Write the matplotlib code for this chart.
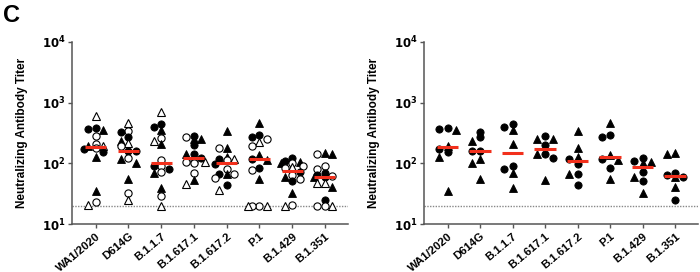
import numpy as np
import matplotlib
matplotlib.use('Agg')
import matplotlib.pyplot as plt

plt.rcParams['font.family'] = ['Liberation Sans', 'DejaVu Sans']
plt.rcParams['font.weight'] = 'bold'

variants = ['WA1/2020', 'D614G', 'B.1.1.7', 'B.1.617.1', 'B.1.617.2', 'P.1', 'B.1.429', 'B.1.351']

# filled markers (shown in both panels)
filled_circle = [
    [380, 368, 174, 154],
    [332, 270, 162, 162],
    [437, 398, 89, 81],
    [283, 200, 121, 143],
    [118, 97, 68, 44],
    [293, 270, 118, 85],
    [121, 109, 73, 51],
    [69, 64, 60, 25],
]
filled_tri = [
    [360, 191, 129, 35],
    [234, 117, 102, 55],
    [355, 206, 69, 40],
    [252, 250, 143, 53],
    [345, 181, 128, 66],
    [457, 137, 113, 55],
    [104, 100, 60, 33],
    [146, 141, 59, 41],
]
# open markers (left panel only)
open_circle = [
    [283, 210, 178, 23],
    [335, 190, 121, 32],
    [259, 113, 90, 71, 29],
    [270, 108, 104, 100, 70],
    [177, 113, 81, 66, 57],
    [250, 193, 78, 20, 20],
    [103, 90, 83, 64, 55, 21],
    [143, 91, 80, 62, 20, 20],
]
open_tri = [
    [610, 190, 21],
    [460, 213, 25],
    [690, 234, 20],
    [104, 45],
    [117, 37],
    [229, 20, 20],
    [88, 20],
    [47, 47, 20],
]

median_left = [184, 160, 100, 124, 100, 118, 76, 60]
median_right = [186, 162, 150, 172, 108, 126, 87, 62]
lod = 20

RED = '#f2301c'
MS = 5.2


def swarm(ax, groups, step=7.0, diam=7.0):
    # compact beeswarm: nearest free slot among a few columns, else least crowded
    fig = ax.figure
    fig.canvas.draw()
    tr = ax.transData
    for i, pts in enumerate(groups):
        pts = sorted(pts, key=lambda p: -p[0])
        placed = []
        x0, _ = tr.transform((i, 1))
        for val, kind in pts:
            _, yp = tr.transform((i, val))
            best, best_d = None, -1
            for k in [0, -1, 1, -1.5, 1.5]:
                xp = x0 + k * step
                d = min([np.hypot(xp - a, yp - b) for a, b in placed] or [99])
                if d >= diam * 0.75:
                    best = xp
                    break
                if d > best_d + 2:
                    best, best_d = xp, d
            placed.append((best, yp))
            xd, _ = tr.inverted().transform((best, yp))
            if kind == 'fc':
                ax.plot(xd, val, 'o', ms=MS, mfc='black', mec='black', mew=0.6, zorder=3)
            elif kind == 'ft':
                ax.plot(xd, val, '^', ms=MS, mfc='black', mec='black', mew=0.6, zorder=3)
            elif kind == 'oc':
                ax.plot(xd, val, 'o', ms=MS, mfc='white', mec='black', mew=0.8, zorder=3)
            else:
                ax.plot(xd, val, '^', ms=MS, mfc='white', mec='black', mew=0.8, zorder=3)


def style(ax):
    ax.set_yscale('log')
    ax.set_ylim(10, 10000)
    ax.set_xlim(-0.72, 7.7)
    ax.set_yticks([10, 100, 1000, 10000])
    ax.set_yticklabels(['$\\mathbf{10^{1}}$', '$\\mathbf{10^{2}}$', '$\\mathbf{10^{3}}$', '$\\mathbf{10^{4}}$'])
    ax.yaxis.set_minor_locator(matplotlib.ticker.NullLocator())
    ax.set_xticks(range(len(variants)))
    ax.set_xticklabels(variants, rotation=40, ha='right', rotation_mode='anchor', fontsize=8.2, fontweight='bold')
    ax.tick_params(axis='y', labelsize=8.5, length=3, width=1, color='#555555', pad=1.5)
    ax.tick_params(axis='x', length=3, width=1, color='#555555', pad=2)
    for s in ['top', 'right']:
        ax.spines[s].set_visible(False)
    for s in ['left', 'bottom']:
        ax.spines[s].set_color('#555555')
        ax.spines[s].set_linewidth(1.1)
    ax.set_ylabel('Neutralizing Antibody Titer', fontsize=8.5, fontweight='bold', labelpad=10)
    ax.axhline(lod, color='#888888', lw=1, ls=(0, (1, 1)), zorder=1)


fig = plt.figure(figsize=(7, 2.72), dpi=100)
ax1 = fig.add_axes([0.103, 0.176, 0.394, 0.67])
ax2 = fig.add_axes([0.606, 0.176, 0.391, 0.67])
style(ax1)
style(ax2)

left_groups = []
right_groups = []
for i in range(len(variants)):
    r = [(v, 'fc') for v in filled_circle[i]] + [(v, 'ft') for v in filled_tri[i]]
    l = r + [(v, 'oc') for v in open_circle[i]] + [(v, 'ot') for v in open_tri[i]]
    right_groups.append(r)
    left_groups.append(l)

swarm(ax1, left_groups, step=7.5)
swarm(ax2, right_groups, step=8.3)

for i in range(len(variants)):
    ax1.plot([i - 0.32, i + 0.32], [median_left[i]] * 2, color=RED, lw=2.2, zorder=4, solid_capstyle='butt')
    ax2.plot([i - 0.33, i + 0.33], [median_right[i]] * 2, color=RED, lw=2.2, zorder=4, solid_capstyle='butt')

fig.text(0.005, 0.985, 'C', fontsize=17, fontweight='bold', va='top', ha='left')

fig.savefig('out.png', dpi=100)
